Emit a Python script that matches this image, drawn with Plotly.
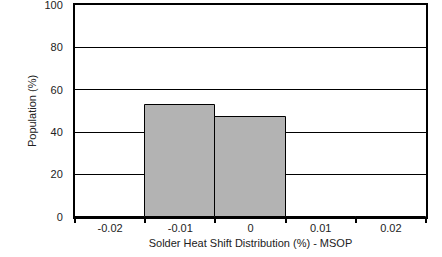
import plotly.graph_objects as go

categories = ["-0.02", "-0.01", "0", "0.01", "0.02"]
population = [0, 52.6, 47.4, 0, 0]
y_ticks = [0, 20, 40, 60, 80, 100]

fig = go.Figure(go.Bar(
    x=categories, y=population,
    marker=dict(color="#b3b3b3", line=dict(color="black", width=1)),
    width=1,
))

font = dict(family="Liberation Sans, Arial, sans-serif", size=11, color="#222222")

fig.update_layout(
    width=442, height=257,
    margin=dict(l=75, r=16, t=5, b=40),
    paper_bgcolor="white", plot_bgcolor="white",
    font=font, showlegend=False, bargap=0,
    xaxis=dict(
        type="category", tickson="boundaries", ticks="outside", ticklen=4,
        tickwidth=2, tickcolor="black", automargin=False,
        showline=True, linewidth=2, linecolor="black", mirror=True,
        showgrid=False, range=[-0.5, 4.5],
        title=dict(text="Solder Heat Shift Distribution (%) - MSOP", font=font, standoff=6),
    ),
    yaxis=dict(
        range=[0, 100], tickvals=y_ticks, ticks="", automargin=False,
        ticklabeloverflow="allow",
        showline=True, linewidth=2, linecolor="black", mirror=True,
        showgrid=True, gridcolor="black", gridwidth=1,
        zeroline=False, ticklabelstandoff=8,
        title=dict(text="Population (%)", font=font, standoff=6),
    ),
)

fig.write_html("out.html")
